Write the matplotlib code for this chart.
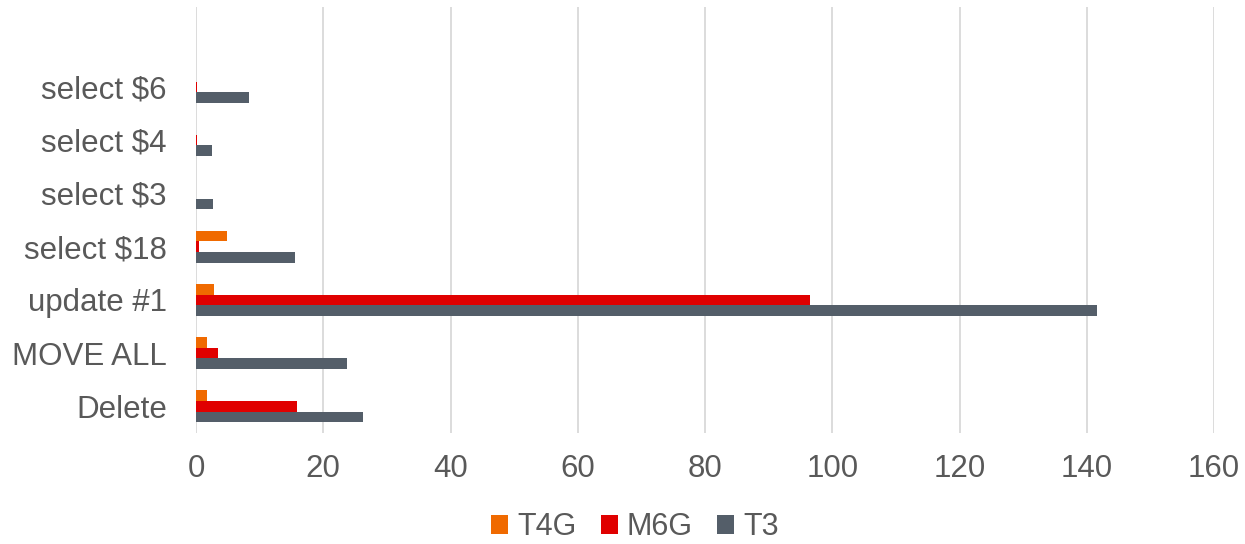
import matplotlib
matplotlib.use("Agg")
import matplotlib.pyplot as plt
import numpy as np

# temps par requete (bas -> haut)
requetes = ["Delete", "MOVE ALL", "update #1", "select $18", "select $3", "select $4", "select $6"]
t4g = [1.8, 1.8, 2.8, 4.8, 0, 0, 0]
m6g = [15.9, 3.4, 96.5, 0.4, 0, 0.1, 0.2]
t3 = [26.2, 23.8, 141.6, 15.6, 2.7, 2.5, 8.3]

couleurs = {"T4G": "#F06A00", "M6G": "#E00000", "T3": "#545E69"}
gris_texte = "#595959"

plt.rcParams["font.family"] = ["Liberation Sans", "DejaVu Sans"]

fig = plt.figure(figsize=(12.45, 5.44), dpi=100)
ax = fig.add_axes([196 / 1245, 1 - 433 / 544, (1214 - 196) / 1245, (433 - 7) / 544])

y = np.arange(len(requetes))
h = 0.2
ax.barh(y + h, t4g, height=h, color=couleurs["T4G"], label="T4G", zorder=3)
ax.barh(y, m6g, height=h, color=couleurs["M6G"], label="M6G", zorder=3)
ax.barh(y - h, t3, height=h, color=couleurs["T3"], label="T3", zorder=3)

ax.set_xlim(0, 160)
ax.set_ylim(-0.5, len(requetes) + 0.5)  # une case vide en haut
ax.set_xticks(np.arange(0, 161, 20))
ax.set_yticks(y)
ax.set_yticklabels(requetes)

ax.grid(axis="x", color="#D9D9D9", linewidth=1.3, zorder=0)
for s in ax.spines.values():
    s.set_visible(False)
ax.tick_params(axis="both", length=0, labelsize=22.5, labelcolor=gris_texte)
ax.tick_params(axis="x", pad=15)
ax.tick_params(axis="y", pad=21)

fig.legend(loc="center", bbox_to_anchor=(0.51, 1 - 527 / 544), ncol=3, frameon=False,
           fontsize=22, labelcolor=gris_texte, handlelength=0.55, handleheight=0.6,
           handletextpad=0.3, columnspacing=0.8)

fig.savefig("out.png", dpi=100)
